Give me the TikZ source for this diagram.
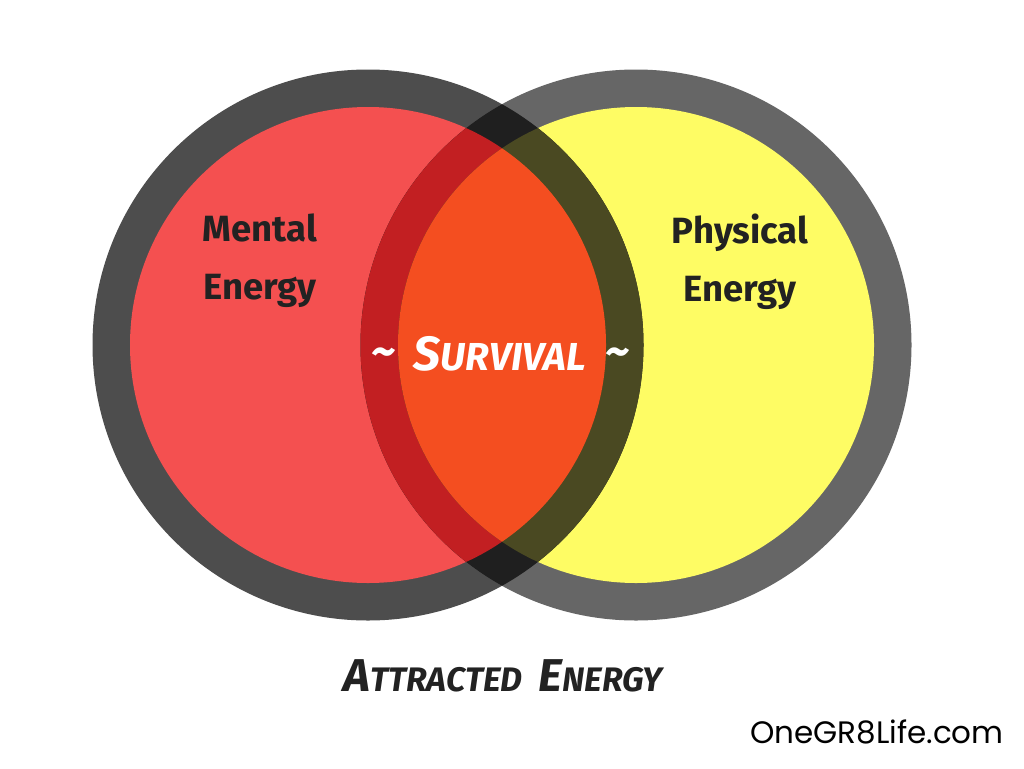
\documentclass[tikz,border=0pt]{standalone}
\usepackage{fontspec}
\setmainfont{Fira Sans}
\newfontfamily\urlfont{Poppins}
\definecolor{ringL}{HTML}{4D4D4D}
\definecolor{ringR}{HTML}{666666}
\definecolor{redF}{HTML}{F45050}
\definecolor{yelF}{HTML}{FEFC64}
\definecolor{orgF}{HTML}{F44E20}
\definecolor{dredF}{HTML}{C21F22}
\definecolor{oliveF}{HTML}{4A4922}
\definecolor{darkF}{HTML}{1F1F1F}
\definecolor{txt}{HTML}{222222}
\tikzset{
  lbl/.style={text=txt, font=\fontsize{36.5}{58}\selectfont\bfseries, align=center, inner sep=0pt},
  brush/.style={font=\bfseries\itshape, inner sep=0pt},
}
\newcommand{\capL}[2]{{\fontsize{#1}{#1}\selectfont #2}}
\begin{document}
\begin{tikzpicture}[x=1pt,y=-1pt]
\useasboundingbox (0,0) rectangle (1024,768);
\fill[white] (0,0) rectangle (1024,768);
\coordinate (cl) at (368,345);
\coordinate (cr) at (636,345);
\def\Ro{275.5}
\def\Ri{238}
% base disks
\fill[ringL] (cl) circle[radius=\Ro];
\fill[ringR] (cr) circle[radius=\Ro];
\fill[redF] (cl) circle[radius=\Ri];
\fill[yelF] (cr) circle[radius=\Ri];
% overlaps
\begin{scope}
  \clip (cl) circle[radius=\Ro];
  \fill[darkF] (cr) circle[radius=\Ro];
\end{scope}
\begin{scope}
  \clip (cl) circle[radius=\Ri];
  \fill[dredF] (cr) circle[radius=\Ro];
\end{scope}
\begin{scope}
  \clip (cr) circle[radius=\Ri];
  \fill[oliveF] (cl) circle[radius=\Ro];
\end{scope}
\begin{scope}
  \clip (cl) circle[radius=\Ri];
  \clip (cr) circle[radius=\Ri];
  \fill[orgF] (cl) circle[radius=\Ro];
\end{scope}
% labels
\node[lbl] (mental) at (260,261) {Mental\\Energy};
\node[lbl] (physical) at (740,262) {Physical\\Energy};
\node[brush, text=white] (surv) at (500,354) {\capL{48}{S}\capL{39}{URVIVAL}};
\node[brush, text=white] (tl) at (384,358) {\capL{48}{\textasciitilde}};
\node[brush, text=white] (tr) at (618,358) {\capL{48}{\textasciitilde}};
\node[brush, text=txt] (attr) at (503,676) {\capL{46}{A}\capL{34}{TTRACTED}\hspace{16pt}\capL{46}{E}\capL{34}{NERGY}};
\node[inner sep=0pt, text=black, font=\urlfont\fontsize{31}{31}\selectfont] (url) at (877,732) {OneGR8Life.com};
\end{tikzpicture}
\end{document}
